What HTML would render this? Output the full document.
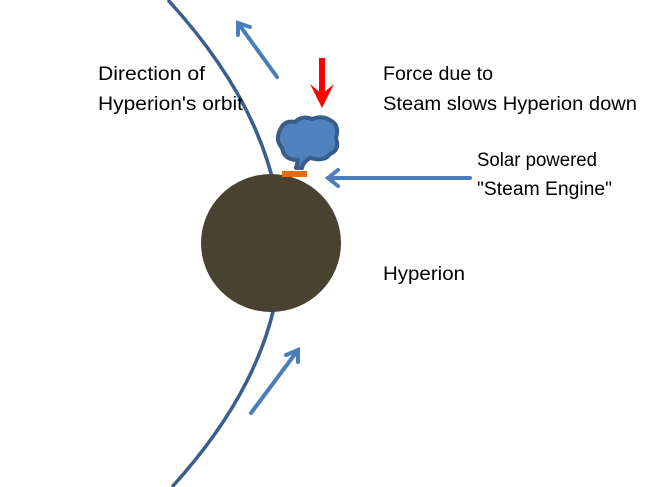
<!DOCTYPE html>
<html><head><meta charset="utf-8"><style>html,body{margin:0;padding:0;background:#fff}svg{display:block}</style></head>
<body>
<svg width="662" height="487" viewBox="0 0 662 487" xmlns="http://www.w3.org/2000/svg" font-family="Liberation Sans, sans-serif" font-size="19" fill="#000">
<path d="M168,0 Q392,245 172,487" fill="none" stroke="#3a5f8f" stroke-width="3.5"/>
<ellipse cx="271" cy="243" rx="70" ry="69" fill="#4a4230"/>
<rect x="282" y="171" width="25" height="6" fill="#e46c0a"/>
<path d="M296,168 L298,160 Q284,160 282,148 Q275,140 280,130 Q284,120 295,122 Q302,115 312,119 Q322,115 330,120 Q340,125 336,138 Q340,150 330,154 Q325,162 310,158 Q303,162 302,168 Z" fill="#4f81bd" stroke="#385d8a" stroke-width="4" stroke-linejoin="round"/>
<g stroke="#4a7ebb" stroke-width="4" fill="none" stroke-linecap="round">
<line x1="277" y1="77" x2="238" y2="23"/><polyline points="238,35 238,23 250,27"/>
<line x1="251" y1="413" x2="298" y2="350"/><polyline points="286,355 298,350 298,362"/>
<line x1="470" y1="178" x2="328" y2="178"/><polyline points="338,170 328,178 338,186"/>
</g>
<line x1="322" y1="58" x2="322" y2="95" stroke="#ff0000" stroke-width="6"/>
<polygon points="310,84 322,108 334,84 322,94" fill="#ff0000"/>
<text x="98" y="80" textLength="107" lengthAdjust="spacingAndGlyphs">Direction of</text>
<text x="98" y="110" textLength="145" lengthAdjust="spacingAndGlyphs">Hyperion's orbit</text>
<text x="383" y="80" textLength="110" lengthAdjust="spacingAndGlyphs">Force due to</text>
<text x="383" y="110" textLength="254" lengthAdjust="spacingAndGlyphs">Steam slows Hyperion down</text>
<text x="477" y="166" textLength="120" lengthAdjust="spacingAndGlyphs">Solar powered</text>
<text x="477" y="195" textLength="135" lengthAdjust="spacingAndGlyphs">"Steam Engine"</text>
<text x="383" y="280" textLength="82" lengthAdjust="spacingAndGlyphs">Hyperion</text>
</svg>
</body></html>
